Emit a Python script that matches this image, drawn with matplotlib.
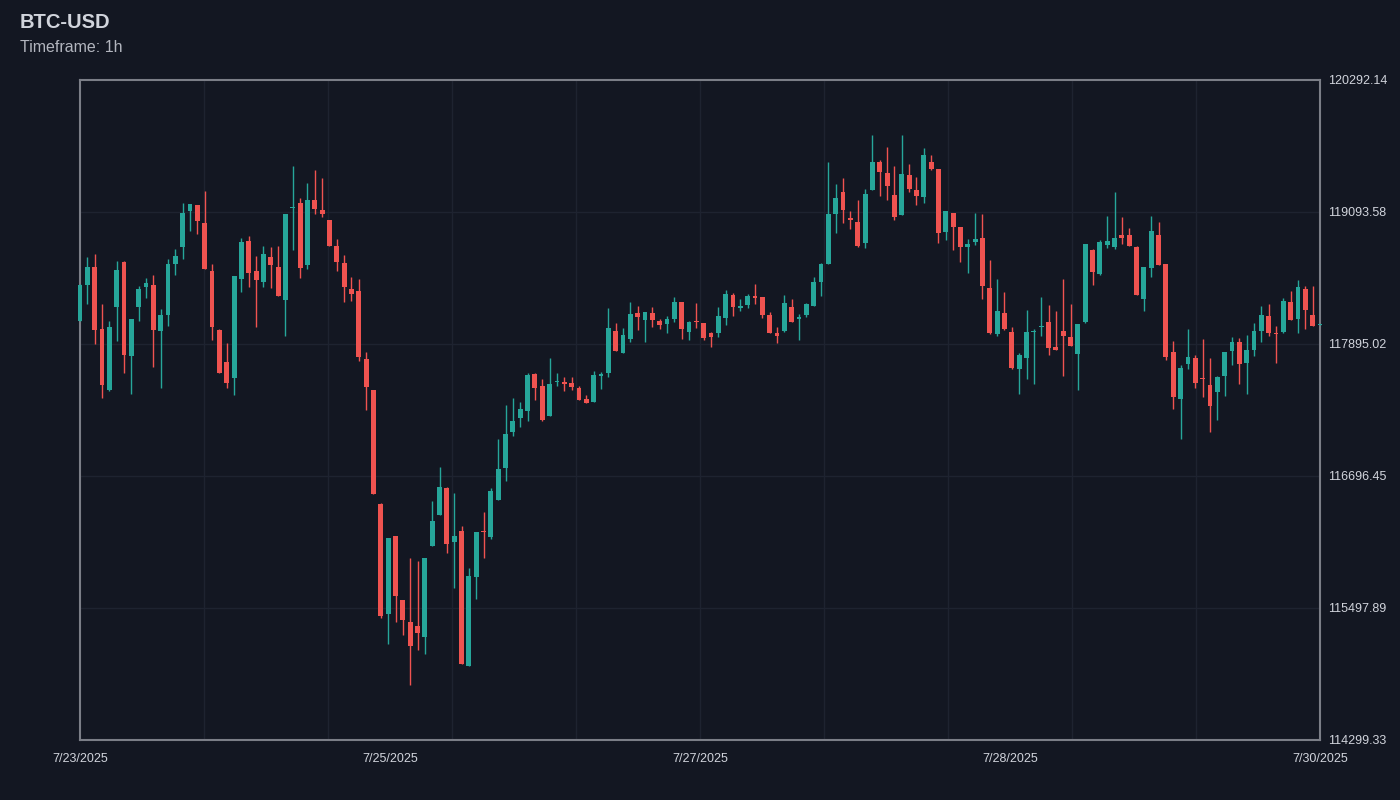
import numpy as np
import matplotlib
matplotlib.use("Agg")
import matplotlib.pyplot as plt

plt.rcParams['font.family'] = ['Liberation Sans', 'DejaVu Sans']

# hourly candles
opens = [118107, 118431, 118597, 118030, 117480, 118228, 118642, 117790, 118228, 118412,
         118431, 118013, 118160, 118622, 118778, 119100, 119155, 118991, 118561, 118025,
         117729, 117589, 118483, 118830, 118555, 118458, 118682, 118597, 118297, 119130,
         119172, 118610, 119200, 119112, 119021, 118782, 118631, 118394, 118376, 117756,
         117477, 116445, 115443, 116154, 115568, 115368, 115334, 115237, 116061, 116342,
         116590, 116100, 116194, 114974, 115782, 116196, 116143, 116476, 116766, 117099,
         117226, 117289, 117625, 117514, 117241, 117550, 117550, 117538, 117498, 117398,
         117366, 117607, 117629, 118016, 117816, 117943, 118179, 118116, 118174, 118101,
         118074, 118122, 118274, 118004, 118100, 118086, 117992, 117992, 118134, 118340,
         118225, 118252, 118331, 118319, 118156, 117992, 118010, 118231, 118125, 118156,
         118243, 118455, 118619, 119073, 119275, 119042, 119006, 118812, 119291, 119548,
         119445, 119251, 119069, 119430, 119296, 119233, 119548, 119481, 118909, 119082,
         118955, 118779, 118821, 118858, 118401, 117986, 118174, 118001, 117668, 117765,
         118001, 118049, 118092, 117865, 118016, 117956, 117807, 118092, 118746, 118528,
         118791, 118776, 118882, 118887, 118779, 118306, 118588, 118887, 118619, 117822,
         117398, 117713, 117768, 117580, 117523, 117456, 117604, 117834, 117913, 117723,
         117841, 118013, 118152, 117989, 118001, 118276, 118125, 118392, 118156, 118066]
highs = [118440, 118682, 118709, 118258, 118104, 118649, 118645, 118122, 118424, 118494,
         118522, 118213, 118667, 118755, 119178, 119170, 119157, 119284, 118621, 118028,
         117901, 118512, 118855, 118876, 118691, 118785, 118773, 118788, 119075, 119511,
         119218, 119357, 119472, 119405, 119023, 118848, 118700, 118506, 118485, 117825,
         117480, 116447, 116132, 116156, 115570, 115949, 115925, 115951, 116469, 116778,
         116593, 116542, 116240, 115858, 116187, 116370, 116585, 117032, 117338, 117407,
         117368, 117632, 117628, 117577, 117768, 117629, 117593, 117593, 117514, 117429,
         117653, 117644, 118219, 118088, 118038, 118276, 118240, 118185, 118228, 118119,
         118147, 118325, 118276, 118101, 118267, 118088, 118001, 118234, 118385, 118361,
         118304, 118352, 118443, 118321, 118188, 118047, 118337, 118301, 118165, 118270,
         118506, 118626, 119545, 119348, 119402, 119103, 119203, 119300, 119793, 119566,
         119681, 119514, 119790, 119529, 119409, 119675, 119614, 119483, 119105, 119084,
         118957, 118848, 119082, 119075, 118660, 118485, 118367, 118049, 117811, 118204,
         118029, 118322, 118246, 118192, 118485, 118256, 118081, 118802, 118755, 118842,
         119057, 119275, 119045, 118948, 118785, 118593, 119055, 119006, 118621, 117925,
         117704, 118034, 117792, 117938, 117768, 117600, 117822, 117956, 117950, 117974,
         118083, 118243, 118256, 118056, 118313, 118376, 118473, 118422, 118422, 118078]
lows = [118104, 118258, 117895, 117405, 117470, 117925, 117634, 117441, 118107, 118315,
        117689, 117496, 118061, 118522, 118667, 118924, 118894, 118574, 117931, 117632,
        117498, 117432, 118370, 118415, 118049, 118415, 118404, 118331, 117970, 118749,
        118492, 118573, 119075, 119051, 118786, 118561, 118274, 118288, 117743, 117296,
        116534, 115404, 115171, 115368, 115255, 114799, 115117, 115078, 116058, 116340,
        116000, 115682, 114985, 114972, 115577, 115955, 116124, 116474, 116651, 117060,
        117141, 117199, 117387, 117199, 117238, 117516, 117468, 117477, 117385, 117360,
        117364, 117489, 117598, 117829, 117814, 117913, 118022, 117913, 118052, 118034,
        117998, 118098, 117938, 117931, 118043, 117931, 117871, 117961, 118070, 118152,
        118197, 118219, 118258, 118128, 117996, 117907, 118008, 118093, 117931, 118140,
        118241, 118331, 118617, 118900, 118996, 118942, 118780, 118769, 119289, 119239,
        119205, 119024, 119067, 119278, 119154, 119178, 119472, 118815, 118839, 118751,
        118642, 118537, 118791, 118306, 117990, 117970, 118022, 117665, 117444, 117575,
        117529, 117970, 117792, 117841, 117602, 117878, 117480, 118090, 118433, 118526,
        118769, 118760, 118806, 118786, 118341, 118197, 118506, 118608, 117750, 117305,
        117032, 117671, 117496, 117411, 117096, 117205, 117426, 117707, 117535, 117444,
        117783, 117916, 117970, 117723, 117999, 118111, 117998, 118029, 118059, 118064]
closes = [118431, 118597, 118022, 117523, 118052, 118567, 117798, 118119, 118394, 118449,
          118019, 118158, 118619, 118694, 119082, 119169, 119015, 118576, 118052, 117634,
          117538, 118510, 118824, 118542, 118473, 118710, 118612, 118334, 119073, 119138,
          118582, 119200, 119118, 119073, 118788, 118637, 118415, 118352, 117780, 117507,
          116536, 115425, 116131, 115610, 115389, 115156, 115274, 115949, 116291, 116599,
          116076, 116149, 114987, 115788, 116185, 116189, 116563, 116763, 117081, 117196,
          117305, 117616, 117498, 117205, 117535, 117559, 117532, 117502, 117387, 117362,
          117611, 117625, 118038, 117831, 117977, 118170, 118137, 118183, 118110, 118070,
          118122, 118274, 118031, 118095, 118094, 117947, 117961, 118149, 118346, 118231,
          118240, 118334, 118315, 118156, 117998, 117968, 118265, 118095, 118143, 118261,
          118455, 118624, 119075, 119218, 119109, 119018, 118782, 119254, 119548, 119460,
          119332, 119045, 119436, 119305, 119242, 119614, 119481, 118906, 119103, 118960,
          118779, 118806, 118848, 118424, 117992, 118195, 118034, 117680, 117795, 118001,
          118013, 118058, 117856, 117843, 117968, 117880, 118079, 118800, 118546, 118824,
          118833, 118860, 118858, 118788, 118343, 118591, 118918, 118610, 117780, 117417,
          117677, 117774, 117538, 117574, 117332, 117598, 117820, 117910, 117711, 117841,
          118010, 118158, 117992, 117983, 118285, 118113, 118413, 118201, 118061, 118077]

x_labels = ['7/23/2025', '7/25/2025', '7/27/2025', '7/28/2025', '7/30/2025']
y_min, y_max = 114299.33, 120292.14

bg = '#131722'
up_col = '#26a69a'
down_col = '#ef5350'
grid_col = '#1e2330'

o = np.array(opens, dtype=float)
h = np.array(highs, dtype=float)
l = np.array(lows, dtype=float)
c = np.array(closes, dtype=float)
x = np.arange(len(o))
n = len(o)

fig = plt.figure(figsize=(14, 8), dpi=100, facecolor=bg)
ax = fig.add_axes([80/1400, 60/800, 1240/1400, 660/800])
ax.set_facecolor(bg)

# grid
for gx in np.linspace(0, n - 1, 11)[1:-1]:
    ax.axvline(gx, color=grid_col, lw=1, zorder=0)
yt = np.linspace(y_min, y_max, 6)
for gy in yt[1:-1]:
    ax.axhline(gy, color=grid_col, lw=1, zorder=0)

# candles drawn on top of the frame, not clipped at the edges
cols = np.where(c >= o, up_col, down_col)
ax.vlines(x, l, h, colors=cols, lw=1, zorder=5, clip_on=False)
body_lo = np.minimum(o, c)
body_h = np.maximum(np.abs(c - o), 10)
bars = ax.bar(x, body_h, bottom=body_lo, width=0.66, color=cols, lw=0, zorder=6)
for b in bars:
    b.set_clip_on(False)

ax.set_xlim(0, n - 1)
ax.set_ylim(y_min, y_max)

ax.set_xticks(np.linspace(0, n - 1, 5))
ax.set_xticklabels(x_labels)
ax.set_yticks(yt)
ax.set_yticklabels([f'{v:.2f}' for v in yt])
ax.yaxis.tick_right()
ax.tick_params(axis='x', length=0, pad=9, labelsize=9, labelcolor='#d1d4dc')
ax.tick_params(axis='y', length=0, pad=6, labelsize=9, labelcolor='#d1d4dc')

for sp in ax.spines.values():
    sp.set_color('#7b7e87')
    sp.set_linewidth(1.5)
    sp.set_zorder(1)

fig.text(20/1400, 1 - 22/800, 'BTC-USD', color='#d1d4dc', fontsize=14.5,
         fontweight='bold', va='center', ha='left')
fig.text(20/1400, 1 - 48/800, 'Timeframe: 1h', color='#b2b5be', fontsize=11.5,
         va='center', ha='left')

fig.savefig('out.png', dpi=100, facecolor=bg)
